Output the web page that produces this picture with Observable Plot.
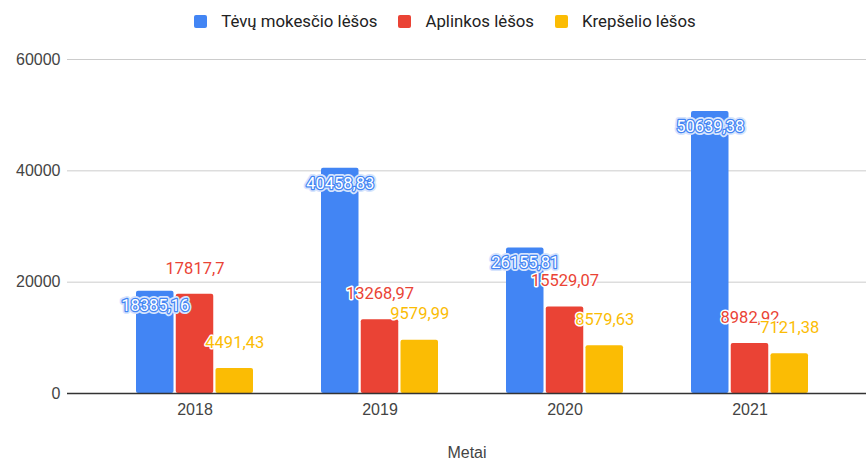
<!DOCTYPE html>
<html>
<head>
<meta charset="utf-8">
<script src="https://cdn.jsdelivr.net/npm/d3@7"></script>
<script src="https://cdn.jsdelivr.net/npm/@observablehq/plot@0.6"></script>
<style>
  html, body { margin: 0; padding: 0; background: #fff; }
  #chart { width: 866px; }
  #legend { height: 42px; display: flex; align-items: center; justify-content: center; padding-left: 24px; box-sizing: border-box;
    font-family: Roboto, sans-serif; font-size: 16.8px; color: #222; margin-bottom: -2px; }
  .item { display: inline-flex; align-items: center; margin-right: 21px; }
  .item:last-child { margin-right: 0; }
  .sw { width: 13px; height: 13px; border-radius: 2px; margin-right: 14px; display: inline-block; }
</style>
</head>
<body>
<div id="chart">
  <div id="legend"></div>
  <div id="plot"></div>
</div>
<script>
const years = ["2018", "2019", "2020", "2021"];
const seriesNames = ["Tėvų mokesčio lėšos", "Aplinkos lėšos", "Krepšelio lėšos"];
const tevuMokescio = [18385.16, 40458.83, 26155.81, 50639.38];
const aplinkos = [17817.7, 13268.97, 15529.07, 8982.92];
const krepselio = [4491.43, 9579.99, 8579.63, 7121.38];
const colors = ["#4285F4", "#EA4335", "#FBBC04"];
const yTicks = [0, 20000, 40000, 60000];

const seriesValues = [tevuMokescio, aplinkos, krepselio];
const data = years.flatMap((year, i) =>
  seriesNames.map((s, k) => ({year, series: s, value: seriesValues[k][i]}))
);
const fmt = v => String(v).replace(".", ",");

// bar band is 117px wide; each bar ~37.5px with ~2.25px gaps
const bw = 117, barW = 37.5, gap = (bw - 3 * barW) / 2;
const insets = [
  {insetLeft: 0, insetRight: bw - barW},
  {insetLeft: barW + gap, insetRight: barW + gap},
  {insetLeft: bw - barW, insetRight: 0}
];
const offsets = [-(barW + gap), 0, barW + gap];

const colorOpts = {domain: seriesNames, range: colors};
const colorScale = Plot.scale({color: {type: "ordinal", ...colorOpts}});

// legend (HTML, above the SVG)
const legendDiv = document.getElementById("legend");
seriesNames.forEach(s => {
  const item = document.createElement("span");
  item.className = "item";
  const sw = document.createElement("span");
  sw.className = "sw";
  sw.style.background = colorScale.apply(s);
  item.appendChild(sw);
  item.appendChild(document.createTextNode(s));
  legendDiv.appendChild(item);
});

const marks = [
  Plot.ruleY(yTicks.filter(d => d > 0), {stroke: "#cccccc", strokeWidth: 1}),
  Plot.axisY({ticks: yTicks, tickSize: 0, tickPadding: 7, label: null, fontSize: 16, fill: "#444", tickFormat: d => String(d)}),
  Plot.axisX({tickSize: 0, tickPadding: 10, fontSize: 16, fill: "#444", label: "Metai", labelAnchor: "center"})
];

seriesNames.forEach((s, k) => {
  const rows = data.filter(d => d.series === s);
  marks.push(Plot.barY(rows, {x: "year", y: "value", fill: "series", rx: 2, ...insets[k]}));
});
marks.push(Plot.ruleY([0], {stroke: "#333", strokeWidth: 1.5}));

seriesNames.forEach((s, k) => {
  const rows = data.filter(d => d.series === s);
  if (k === 0) {
    marks.push(Plot.text(rows, {x: "year", y: "value", text: d => fmt(d.value), dx: offsets[k], dy: 15,
      fontFamily: "Roboto", fontSize: 16.5, fill: "none", stroke: "#d6e4fd", strokeWidth: 6, strokeLinejoin: "round"}));
    marks.push(Plot.text(rows, {x: "year", y: "value", text: d => fmt(d.value), dx: offsets[k], dy: 15,
      fontFamily: "Roboto", fontSize: 16.5, fill: "#ffffff", stroke: colors[k], strokeWidth: 2.5, paintOrder: "stroke", strokeLinejoin: "round"}));
  } else {
    marks.push(Plot.text(rows, {x: "year", y: "value", text: d => fmt(d.value), dx: offsets[k], dy: -26,
      fontFamily: "Roboto", fontSize: 16.5, fill: colors[k], stroke: "#ffffff", strokeWidth: 3, paintOrder: "stroke", strokeLinejoin: "round"}));
  }
});

const chart = Plot.plot({
  width: 866,
  height: 420,
  marginLeft: 67,
  marginRight: 0,
  marginTop: 19,
  marginBottom: 67,
  style: {fontFamily: "'Liberation Sans', Arial, sans-serif", fontSize: "16px", color: "#444", background: "#fff"},
  x: {domain: years, insetLeft: 68, insetRight: 56.5, paddingInner: 0.37, paddingOuter: 0, label: "Metai"},
  y: {domain: [0, 60000], label: null},
  color: colorOpts,
  marks
});
document.getElementById("plot").appendChild(chart);
</script>
</body>
</html>
